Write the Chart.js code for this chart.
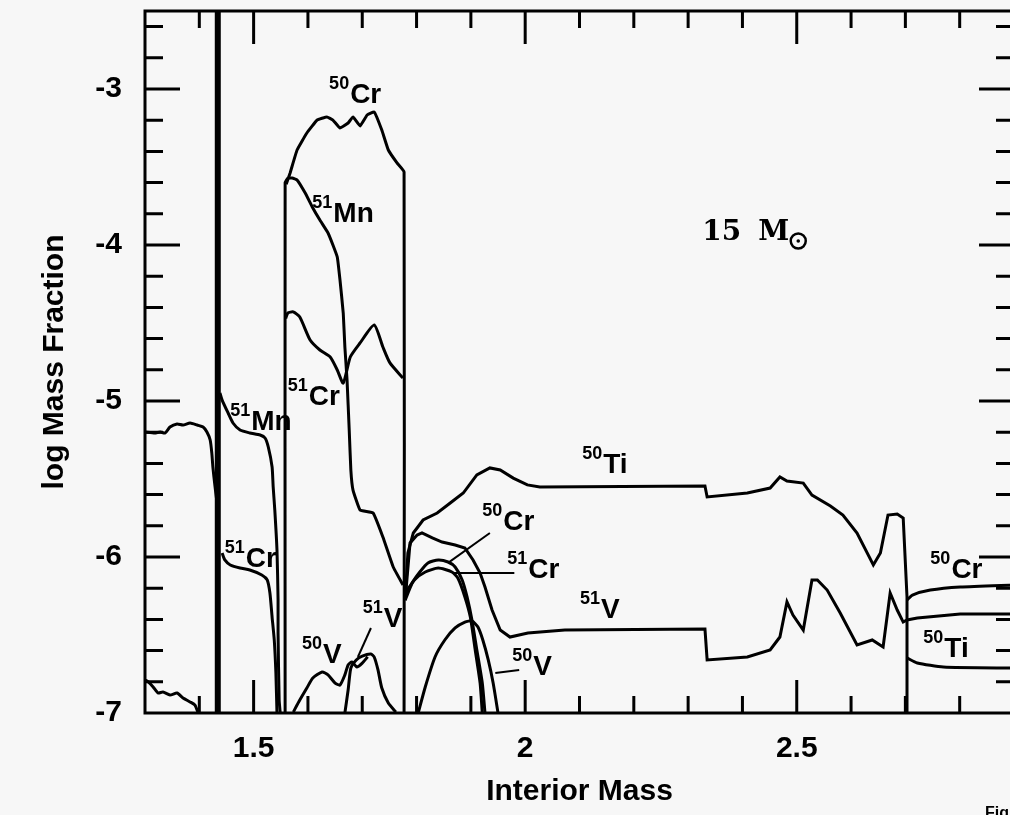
<!DOCTYPE html>
<html>
<head>
<meta charset="utf-8">
<script src="https://cdn.jsdelivr.net/npm/chart.js@4.4.1/dist/chart.umd.min.js"></script>
<style>
    html, body { margin: 0; padding: 0; background: #f7f7f7; overflow: hidden; }
    .chartBox { position: relative; width: 1030px; height: 815px; }
</style>
</head>
<body>
<div class="chartBox"><canvas id="massFraction"></canvas></div>
<script>
// axis ranges (interior mass, log mass fraction)
const xRange = [1.3, 2.9];
const yRange = [-7, -2.5];

// curves: [interior mass, log mass fraction]
const massCut = [[1.434, -2.5], [1.434, -7.0]];

const edgeUpper = [[1.300,-5.199],[1.318,-5.205],[1.328,-5.199],[1.337,-5.205],[1.346,-5.167],[1.359,-5.147],[1.370,-5.154],[1.383,-5.141],[1.396,-5.154],[1.407,-5.167],[1.414,-5.199],[1.420,-5.250],[1.423,-5.333],[1.425,-5.423],[1.429,-5.551],[1.432,-5.635]];
const edgeLower = [[1.300,-6.788],[1.306,-6.801],[1.315,-6.833],[1.324,-6.872],[1.333,-6.865],[1.346,-6.885],[1.359,-6.872],[1.370,-6.904],[1.383,-6.929],[1.392,-6.949],[1.398,-7.0]];

const mn51Inner = [[1.438,-4.949],[1.442,-4.994],[1.453,-5.077],[1.462,-5.141],[1.475,-5.186],[1.493,-5.205],[1.512,-5.218],[1.521,-5.237],[1.527,-5.295],[1.534,-5.423],[1.536,-5.551],[1.539,-5.699],[1.543,-5.955],[1.545,-6.276],[1.545,-6.487],[1.547,-6.917],[1.549,-7.0]];
const cr51Inner = [[1.442,-5.974],[1.447,-6.019],[1.457,-6.051],[1.475,-6.071],[1.493,-6.083],[1.515,-6.115],[1.525,-6.147],[1.530,-6.231],[1.534,-6.385],[1.538,-6.532],[1.541,-6.744],[1.543,-7.0]];

const mn51Shell = [[1.558,-7.0],[1.558,-3.600],[1.563,-3.572],[1.571,-3.571],[1.580,-3.583],[1.595,-3.667],[1.608,-3.756],[1.622,-3.840],[1.637,-3.923],[1.646,-4.000],[1.654,-4.077],[1.659,-4.224],[1.665,-4.436],[1.668,-4.654],[1.672,-4.865],[1.676,-5.186],[1.679,-5.442],[1.683,-5.571],[1.696,-5.699],[1.720,-5.718],[1.738,-5.872],[1.757,-6.064],[1.775,-6.179]];
const cr50Shell = [[1.560,-3.610],[1.567,-3.540],[1.580,-3.391],[1.598,-3.282],[1.617,-3.199],[1.635,-3.179],[1.646,-3.199],[1.659,-3.250],[1.674,-3.218],[1.683,-3.179],[1.696,-3.237],[1.709,-3.167],[1.722,-3.147],[1.736,-3.263],[1.748,-3.391],[1.764,-3.474],[1.777,-3.532],[1.777,-7.0]];
const cr51Shell = [[1.559,-4.470],[1.563,-4.436],[1.573,-4.429],[1.585,-4.462],[1.604,-4.609],[1.622,-4.673],[1.641,-4.718],[1.654,-4.801],[1.665,-4.885],[1.678,-4.718],[1.696,-4.628],[1.722,-4.513],[1.738,-4.654],[1.751,-4.756],[1.775,-4.853]];
const v50Shell = [[1.573,-6.994],[1.585,-6.917],[1.598,-6.840],[1.609,-6.776],[1.626,-6.737],[1.637,-6.756],[1.650,-6.808],[1.659,-6.821],[1.668,-6.756],[1.674,-6.692],[1.681,-6.673],[1.690,-6.705],[1.700,-6.680],[1.710,-6.640]];
const v51Shell = [[1.668,-7.0],[1.674,-6.853],[1.679,-6.712],[1.689,-6.660],[1.700,-6.635],[1.716,-6.622],[1.722,-6.641],[1.729,-6.724],[1.736,-6.840],[1.748,-6.936],[1.762,-6.994]];

const ti50Outer = [[1.779,-6.276],[1.784,-5.974],[1.794,-5.846],[1.812,-5.763],[1.838,-5.718],[1.862,-5.654],[1.886,-5.590],[1.911,-5.474],[1.935,-5.429],[1.954,-5.442],[1.978,-5.494],[2.004,-5.538],[2.027,-5.551],[2.331,-5.545],[2.335,-5.615],[2.409,-5.590],[2.451,-5.558],[2.469,-5.487],[2.482,-5.513],[2.512,-5.526],[2.528,-5.603],[2.562,-5.673],[2.585,-5.731],[2.611,-5.846],[2.641,-6.051],[2.654,-5.974],[2.668,-5.731],[2.685,-5.724],[2.696,-5.750],[2.703,-6.256],[2.703,-7.0]];
const v51Outer = [[1.779,-6.276],[1.788,-5.910],[1.801,-5.859],[1.810,-5.846],[1.829,-5.878],[1.847,-5.904],[1.871,-5.923],[1.889,-5.942],[1.904,-6.019],[1.917,-6.103],[1.926,-6.192],[1.939,-6.340],[1.954,-6.468],[1.972,-6.513],[2.005,-6.487],[2.073,-6.468],[2.331,-6.462],[2.335,-6.660],[2.409,-6.641],[2.451,-6.596],[2.469,-6.513],[2.482,-6.288],[2.493,-6.372],[2.512,-6.468],[2.528,-6.147],[2.538,-6.147],[2.556,-6.212],[2.580,-6.359],[2.611,-6.564],[2.639,-6.532],[2.659,-6.577],[2.672,-6.231],[2.685,-6.340],[2.696,-6.417],[2.703,-6.404],[2.722,-6.391],[2.801,-6.365],[2.900,-6.365]];
const cr50Outer = [[1.779,-6.276],[1.792,-6.167],[1.806,-6.096],[1.821,-6.038],[1.840,-6.019],[1.858,-6.032],[1.871,-6.064],[1.884,-6.147],[1.893,-6.256],[1.902,-6.404],[1.911,-6.596],[1.921,-6.808],[1.926,-7.0]];
const cr51Outer = [[1.779,-6.231],[1.796,-6.147],[1.816,-6.096],[1.840,-6.071],[1.865,-6.096],[1.876,-6.135],[1.889,-6.256],[1.899,-6.385],[1.908,-6.596],[1.917,-6.808],[1.921,-7.0]];
const v50Outer = [[1.803,-7.0],[1.816,-6.833],[1.834,-6.641],[1.852,-6.532],[1.871,-6.455],[1.889,-6.417],[1.902,-6.410],[1.913,-6.449],[1.922,-6.532],[1.932,-6.660],[1.941,-6.808],[1.950,-7.0]];

const cr50Edge = [[2.703,-6.276],[2.713,-6.244],[2.746,-6.212],[2.801,-6.192],[2.900,-6.179]];
const ti50Edge = [[2.703,-6.647],[2.722,-6.679],[2.770,-6.705],[2.900,-6.712]];

// label leader lines
const leader51V = [[1.716,-6.455],[1.692,-6.641]];
const leader50Cr = [[1.935,-5.846],[1.858,-6.038]];
const leader51Cr = [[1.980,-6.103],[1.868,-6.103]];
const leader50V = [[1.989,-6.724],[1.945,-6.744]];

// isotope labels: mass number, element, anchor (interior mass, log mass fraction)
const labelMass = ['50','51','51','51','51','50','51','50','50','51','51','50','50','50'];
const labelElement = ['Cr','Mn','Cr','Mn','Cr','V','V','Ti','Cr','Cr','V','V','Cr','Ti'];
const labelX = [1.639,1.608,1.563,1.457,1.447,1.589,1.701,2.105,1.921,1.967,2.101,1.976,2.746,2.733];
const labelY = [-3.090,-3.853,-5.026,-5.186,-6.064,-6.679,-6.449,-5.462,-5.827,-6.135,-6.391,-6.756,-6.135,-6.641];

const starMassAt = [2.326, -3.968];

const sansFont = "'Liberation Sans', Arial, Helvetica, sans-serif";

function curve(points, width, tension) {
    return {
        data: points.map(p => ({ x: p[0], y: p[1] })),
        showLine: true,
        borderColor: '#000',
        borderWidth: width,
        pointRadius: 0,
        fill: false,
        tension: tension
    };
}

const frameAndTicks = {
    id: 'frameAndTicks',
    afterDatasetsDraw(chart) {
        const { ctx, chartArea: a, scales } = chart;
        ctx.save();
        ctx.strokeStyle = '#000';
        ctx.lineWidth = 3;
        ctx.strokeRect(a.left, a.top, a.right - a.left, a.bottom - a.top);
        ctx.beginPath();
        for (let i = 14; i <= 28; i++) {
            const px = scales.x.getPixelForValue(i / 10);
            const len = i % 5 === 0 ? 33 : 17;
            ctx.moveTo(px, a.bottom); ctx.lineTo(px, a.bottom - len);
            ctx.moveTo(px, a.top); ctx.lineTo(px, a.top + len);
        }
        for (let k = 1; k <= 22; k++) {
            const v = yRange[0] + k * 0.2;
            const py = scales.y.getPixelForValue(v);
            const len = Math.abs(v - Math.round(v)) < 1e-6 ? 35 : 18;
            ctx.moveTo(a.left, py); ctx.lineTo(a.left + len, py);
            ctx.moveTo(a.right, py); ctx.lineTo(a.right - len, py);
        }
        ctx.stroke();
        ctx.restore();
    }
};

const isotopeText = {
    id: 'isotopeText',
    afterDatasetsDraw(chart) {
        const { ctx, scales } = chart;
        ctx.save();
        ctx.fillStyle = '#000';
        ctx.textBaseline = 'alphabetic';
        ctx.textAlign = 'left';
        labelMass.forEach((m, i) => {
            const px = scales.x.getPixelForValue(labelX[i]);
            const py = scales.y.getPixelForValue(labelY[i]);
            ctx.font = `bold 18px ${sansFont}`;
            ctx.fillText(m, px, py - 14);
            const w = ctx.measureText(m).width;
            ctx.font = `bold 28px ${sansFont}`;
            ctx.fillText(labelElement[i], px + w + 1, py);
        });

        // 15 solar masses
        const sx = scales.x.getPixelForValue(starMassAt[0]);
        const sy = scales.y.getPixelForValue(starMassAt[1]);
        ctx.font = "bold 28px 'DejaVu Serif', serif";
        ctx.fillText('15', sx, sy);
        ctx.fillText('M', sx + 56, sy);
        ctx.lineWidth = 2.5;
        ctx.strokeStyle = '#000';
        ctx.beginPath();
        ctx.arc(sx + 96, sy + 1, 7.5, 0, Math.PI * 2);
        ctx.stroke();
        ctx.beginPath();
        ctx.arc(sx + 96, sy + 1, 1.8, 0, Math.PI * 2);
        ctx.fill();

        ctx.font = `bold 16px ${sansFont}`;
        ctx.fillText('Fig.', 985, 818);
        ctx.restore();
    }
};

const ctx = document.getElementById('massFraction').getContext('2d');

window.chartInstance = new Chart(ctx, {
    type: 'scatter',
    data: {
        datasets: [
            curve(massCut, 6, 0),
            curve(edgeUpper, 3, 0.2),
            curve(edgeLower, 3, 0.2),
            curve(mn51Inner, 3, 0.2),
            curve(cr51Inner, 3, 0.2),
            curve(mn51Shell, 3, 0.1),
            curve(cr50Shell, 3, 0.1),
            curve(cr51Shell, 3, 0.2),
            curve(v50Shell, 3, 0.2),
            curve(v51Shell, 3, 0.2),
            curve(ti50Outer, 3, 0),
            curve(v51Outer, 3, 0),
            curve(cr50Outer, 3, 0.2),
            curve(cr51Outer, 3, 0.2),
            curve(v50Outer, 3, 0.2),
            curve(cr50Edge, 3, 0.2),
            curve(ti50Edge, 3, 0.2),
            curve(leader51V, 2, 0),
            curve(leader50Cr, 2, 0),
            curve(leader51Cr, 2, 0),
            curve(leader50V, 2, 0)
        ]
    },
    options: {
        responsive: true,
        maintainAspectRatio: false,
        animation: false,
        devicePixelRatio: 1,
        layout: { padding: { left: 0, right: 16, top: 11, bottom: 0 } },
        plugins: {
            legend: { display: false },
            tooltip: { enabled: false }
        },
        scales: {
            x: {
                type: 'linear',
                min: xRange[0],
                max: xRange[1],
                grid: { display: false, drawTicks: false },
                border: { display: false },
                ticks: {
                    stepSize: 0.5,
                    includeBounds: false,
                    autoSkip: false,
                    maxRotation: 0,
                    padding: 18,
                    color: '#000',
                    font: { family: sansFont, size: 30, weight: 'bold' },
                    callback: v => `${Math.round(v * 10) / 10}`
                },
                title: {
                    display: true,
                    text: 'Interior Mass',
                    color: '#000',
                    font: { family: sansFont, size: 30, weight: 'bold' },
                    padding: { top: 0, bottom: 5 }
                },
                afterFit: s => { s.height = 102; s.paddingLeft = 0; s.paddingRight = 0; }
            },
            y: {
                type: 'linear',
                min: yRange[0],
                max: yRange[1],
                grid: { display: false, drawTicks: false },
                border: { display: false },
                ticks: {
                    stepSize: 1,
                    includeBounds: false,
                    padding: 23,
                    color: '#000',
                    font: { family: sansFont, size: 30, weight: 'bold' },
                    callback: v => `${v}`
                },
                title: {
                    display: true,
                    text: 'log Mass Fraction',
                    color: '#000',
                    font: { family: sansFont, size: 30, weight: 'bold' },
                    padding: { top: 37, bottom: 0 }
                },
                afterFit: s => { s.width = 145; s.paddingTop = 0; s.paddingBottom = 0; }
            }
        }
    },
    plugins: [frameAndTicks, isotopeText]
});
</script>
</body>
</html>
